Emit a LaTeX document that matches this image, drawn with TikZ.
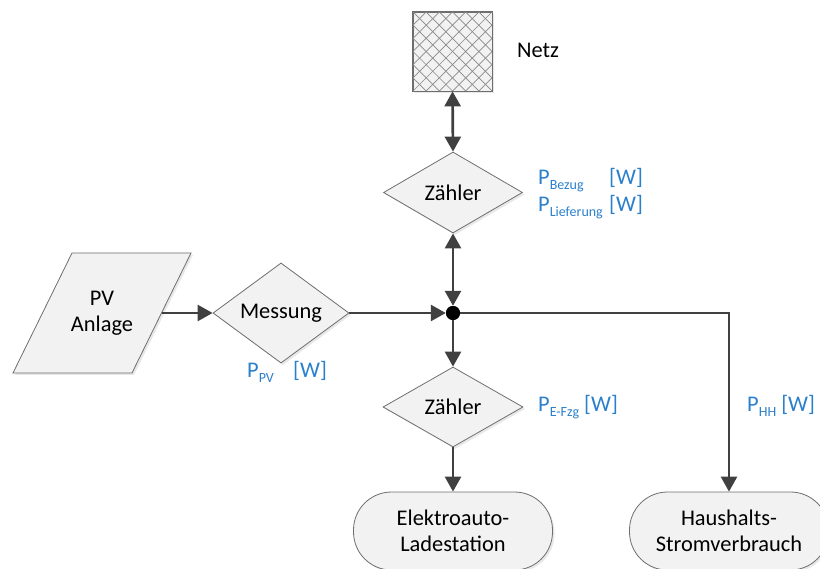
\documentclass[tikz,border=0pt]{standalone}
\usepackage{fontspec}
\setmainfont{Carlito}
\usetikzlibrary{shapes.geometric,arrows.meta,shadows}

\definecolor{flowline}{HTML}{404040}
\definecolor{shapeborder}{HTML}{6E6E6E}
\definecolor{shapefill}{HTML}{F2F2F2}
\definecolor{labelblue}{HTML}{2A80CC}
\definecolor{hatchgray}{HTML}{8A8A8A}

\newcommand\figfont{\fontsize{22.4}{26}\selectfont}
\newcommand\qsub[1]{\raisebox{-0.4ex}{\fontsize{14}{14}\selectfont #1}}

\tikzset{
  box/.style={draw=shapeborder, line width=0.8pt, fill=shapefill,
    drop shadow={shadow xshift=2pt, shadow yshift=-2pt, opacity=0.18}},
  meter/.style={box, diamond, minimum width=139pt, minimum height=81pt,
    inner sep=0pt, font=\figfont},
  terminal/.style={box, rectangle, rounded corners=38pt, minimum width=199pt,
    minimum height=78pt, align=center, font=\figfont},
  tip/.tip={Triangle[length=15pt,width=16pt]},
  flow/.style={draw=flowline, line width=2.7pt, -tip},
  flowboth/.style={draw=flowline, line width=2.7pt, tip-tip},
  qty/.style={text=labelblue, anchor=base west, inner sep=0pt, font=\figfont},
  plain/.style={inner sep=0pt, font=\figfont},
  hatch/.style={draw=hatchgray, line width=0.7pt},
}

\begin{document}
\begin{tikzpicture}[x=1pt, y=-1pt]
\useasboundingbox (0,0) rectangle (820,569);

% grid supply: cross-hatched square
\node[box, rectangle, minimum size=79pt, inner sep=0pt] (netz) at (452.5,51.5) {};
\begin{scope}
  \clip (413,12) rectangle (492,91);
  \foreach \k in {-6,...,6} {
    \draw[hatch] ({413+13.17*\k},12) -- ++(79,79);
    \draw[hatch] ({413+13.17*\k},91) -- ++(79,-79);
  }
\end{scope}
\draw[shapeborder, line width=0.8pt] (netz.south west) rectangle (netz.north east);
\node[plain, anchor=west] (netzlabel) at (517,50) {Netz};

% PV plant: parallelogram
\filldraw[draw=shapeborder, line width=0.8pt, fill=shapefill,
  drop shadow={shadow xshift=2pt, shadow yshift=-2pt, opacity=0.18}]
  (72,253) -- (191,253) -- (132,373) -- (13,373) -- cycle;
\node[plain, align=center] (pv) at (102,313) {PV\\Anlage};
\coordinate (pvr) at (161.5,313);

% meters
\node[meter, minimum width=136pt, minimum height=83pt] (mess) at (281,313) {Messung};
\node[meter] (z1) at (453,192.5) {Zähler};
\node[meter, minimum width=140pt, minimum height=80pt] (z2) at (453,407) {Zähler};

% consumers
\node[terminal] (ev) at (453,531) {Elektroauto-\\Ladestation};
\node[terminal] (hh) at (729,531) {Haushalts-\\Stromverbrauch};

% junction point
\node[circle, fill=black, minimum size=14pt, inner sep=0pt] (j) at (453,313) {};

% power flows
\draw[flowboth] (netz.south) -- (z1.north);
\draw[flowboth] (z1.south) -- (j.north);
\draw[flow] (pvr) -- (mess.west);
\draw[flow] (mess.east) -- (j.west);
\draw[flow] (j.south) -- (z2.north);
\draw[flow] (z2.south) -- (ev.north);
\draw[flow] (j.center) -| (hh.north);
\node[circle, fill=black, minimum size=14pt, inner sep=0pt] at (j) {};

% measured quantities
\node[qty] (pbez) at (538,185) {P\qsub{Bezug}};
\node[qty] (pbezw) at (609,185) {[W]};
\node[qty] (plief) at (538,212) {P\qsub{Lieferung}};
\node[qty] (pliefw) at (609,212) {[W]};
\node[qty] (ppv) at (247,378) {P\qsub{PV}};
\node[qty] (ppvw) at (293,378) {[W]};
\node[qty] (pev) at (538,412) {P\qsub{E-Fzg} [W]};
\node[qty] (phh) at (747,412) {P\qsub{HH} [W]};
\end{tikzpicture}
\end{document}
